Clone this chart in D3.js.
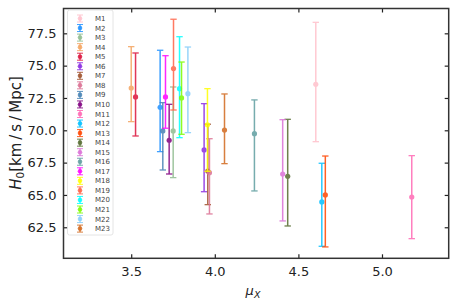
<!DOCTYPE html>
<html>
<head>
<meta charset="utf-8">
<script src="https://cdn.jsdelivr.net/npm/d3@7"></script>
<style>
  body { margin: 0; background: #fff; }
  text { font-family: "DejaVu Sans", sans-serif; }
</style>
</head>
<body>
<svg id="chart" width="457" height="306"></svg>
<script>
// models
var names = ["M1","M2","M3","M4","M5","M6","M7","M8","M9","M10","M11","M12",
             "M13","M14","M15","M16","M17","M18","M19","M20","M21","M22","M23"];
var colors = ["pink","dodgerblue","darkseagreen","sandybrown","crimson","blueviolet","sienna",
              "palevioletred","steelblue","purple","hotpink","deepskyblue","orangered",
              "darkolivegreen","orchid","cadetblue","magenta","yellow","tomato","cyan",
              "lawngreen","lightskyblue","chocolate"];
var muX  = [4.604,3.673,3.751,3.500,3.526,3.936,3.958,3.968,3.689,3.727,5.178,4.640,
            4.661,4.436,4.406,4.237,3.705,3.956,3.753,3.789,3.801,3.839,4.058];
var h0   = [73.56,71.78,69.95,73.27,72.58,68.48,66.85,66.72,69.95,69.23,64.84,64.46,
            65.00,66.44,66.62,69.74,72.58,70.43,74.77,73.22,72.50,72.83,70.02];
var h0Lo = [69.12,68.35,66.34,70.67,69.56,65.25,64.25,63.53,66.93,66.62,61.62,61.03,
            60.98,62.60,62.99,65.31,70.16,66.83,71.57,69.43,69.69,69.82,67.42];
var h0Hi = [78.35,76.19,73.35,76.47,75.98,72.06,70.47,69.35,72.14,72.01,68.04,67.45,
            68.01,70.85,70.82,72.35,75.77,73.22,78.59,77.24,75.28,76.44,72.81];

var xTicks = [3.5, 4.0, 4.5, 5.0];
var yTicks = [62.5, 65.0, 67.5, 70.0, 72.5, 75.0, 77.5];

(function() {
  var pLeft = 63.5, pRight = 448.7, pTop = 8.5, pBottom = 258.3;
  var svg = d3.select("#chart");

  var x = d3.scaleLinear().domain([3.095, 5.399]).range([pLeft, pRight]);
  var y = d3.scaleLinear().domain([60.10, 79.42]).range([pBottom, pTop]);

  var data = names.map(function(n, i) {
    return { name: n, color: colors[i], x: muX[i], y: h0[i], lo: h0Lo[i], hi: h0Hi[i] };
  });

  // error bars
  var cap = 3.2;
  var bars = svg.append("g").selectAll("g").data(data).enter().append("g")
    .attr("opacity", 0.85)
    .attr("stroke", function(d) { return d.color; })
    .attr("fill", function(d) { return d.color; });
  bars.append("line")
    .attr("x1", function(d) { return x(d.x); }).attr("x2", function(d) { return x(d.x); })
    .attr("y1", function(d) { return y(d.lo); }).attr("y2", function(d) { return y(d.hi); })
    .attr("stroke-width", 1.5);
  bars.append("line")
    .attr("x1", function(d) { return x(d.x) - cap; }).attr("x2", function(d) { return x(d.x) + cap; })
    .attr("y1", function(d) { return y(d.hi); }).attr("y2", function(d) { return y(d.hi); })
    .attr("stroke-width", 1.3);
  bars.append("line")
    .attr("x1", function(d) { return x(d.x) - cap; }).attr("x2", function(d) { return x(d.x) + cap; })
    .attr("y1", function(d) { return y(d.lo); }).attr("y2", function(d) { return y(d.lo); })
    .attr("stroke-width", 1.3);
  bars.append("circle")
    .attr("cx", function(d) { return x(d.x); })
    .attr("cy", function(d) { return y(d.y); })
    .attr("r", 2.6).attr("stroke", "none");

  // axes, ticks inward on all four sides
  svg.append("g").attr("transform", "translate(0," + pBottom + ")")
    .call(d3.axisBottom(x).tickValues(xTicks).tickSize(-4).tickPadding(8).tickFormat(d3.format(".1f")));
  svg.append("g").attr("transform", "translate(0," + pTop + ")")
    .call(d3.axisTop(x).tickValues(xTicks).tickSize(-4).tickFormat(""));
  svg.append("g").attr("transform", "translate(" + pLeft + ",0)")
    .call(d3.axisLeft(y).tickValues(yTicks).tickSize(-4).tickPadding(7).tickFormat(d3.format(".1f")));
  svg.append("g").attr("transform", "translate(" + pRight + ",0)")
    .call(d3.axisRight(y).tickValues(yTicks).tickSize(-4).tickFormat(""));
  svg.selectAll(".domain").remove();
  svg.selectAll(".tick line").attr("stroke", "#222").attr("stroke-width", 1.2);
  svg.selectAll(".tick text").attr("font-size", 13).attr("fill", "#222")
    .attr("font-family", "DejaVu Sans");

  svg.append("rect")
    .attr("x", pLeft).attr("y", pTop)
    .attr("width", pRight - pLeft).attr("height", pBottom - pTop)
    .attr("fill", "none").attr("stroke", "#333").attr("stroke-width", 1.5);

  // legend
  var lg = svg.append("g");
  var lgTop = 18.5, lgStep = 9.55;
  lg.append("rect")
    .attr("x", 67.5).attr("y", 10).attr("width", 45.5).attr("height", 225)
    .attr("rx", 2).attr("fill", "#fff").attr("fill-opacity", 0.8)
    .attr("stroke", "#ddd").attr("stroke-width", 0.8);
  var items = lg.selectAll("g.item").data(data).enter().append("g")
    .attr("class", "item")
    .attr("transform", function(d, i) { return "translate(80," + (lgTop + i * lgStep) + ")"; });
  items.append("line").attr("x1", 0).attr("x2", 0).attr("y1", -3.5).attr("y2", 3.5)
    .attr("stroke", function(d) { return d.color; }).attr("stroke-width", 1.3).attr("opacity", 0.85);
  items.append("line").attr("x1", -3).attr("x2", 3).attr("y1", -3.5).attr("y2", -3.5)
    .attr("stroke", function(d) { return d.color; }).attr("stroke-width", 1).attr("opacity", 0.85);
  items.append("line").attr("x1", -3).attr("x2", 3).attr("y1", 3.5).attr("y2", 3.5)
    .attr("stroke", function(d) { return d.color; }).attr("stroke-width", 1).attr("opacity", 0.85);
  items.append("circle").attr("r", 2.3)
    .attr("fill", function(d) { return d.color; }).attr("opacity", 0.85);
  items.append("text").attr("x", 15).attr("y", 2.5)
    .attr("font-size", 7).attr("fill", "#444")
    .text(function(d) { return d.name; });

  // axis labels
  var yl = svg.append("text")
    .attr("transform", "translate(21,133) rotate(-90)")
    .attr("text-anchor", "middle").attr("font-size", 15).attr("fill", "#222");
  yl.append("tspan").attr("font-style", "italic").text("H");
  yl.append("tspan").attr("font-size", 10.5).attr("dy", 3).text("0");
  yl.append("tspan").attr("dy", -3).text("[km\u2009/\u2009s\u2009/\u2009Mpc]");

  var xl = svg.append("text")
    .attr("x", 253).attr("y", 295)
    .attr("text-anchor", "middle").attr("font-size", 13).attr("fill", "#222");
  xl.append("tspan").attr("font-style", "italic").text("\u03bc");
  xl.append("tspan").attr("font-style", "italic").attr("font-size", 9.5).attr("dy", 2.5).text("X");
})();
</script>
</body>
</html>
